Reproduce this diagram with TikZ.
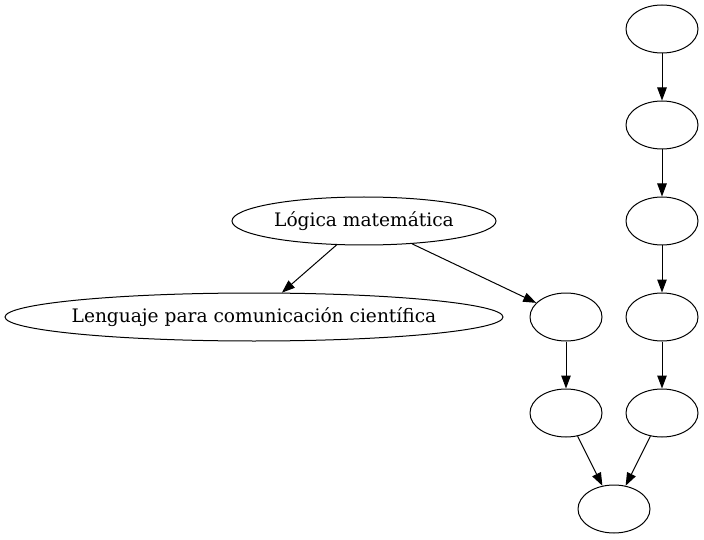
\documentclass[tikz,border=0pt]{standalone}
\usepackage{fontspec}
\setmainfont{DejaVu Serif}
\usetikzlibrary{shapes.geometric,arrows.meta}
\newcommand{\zw}[1]{\makebox[0pt]{#1}}
\begin{document}
\begin{tikzpicture}[x=1pt,y=1pt,
  nd/.style={draw,ellipse,inner sep=0pt,minimum width=72pt,minimum height=48pt,line width=1pt,font=\fontsize{18.6}{21}\selectfont},
  ar/.style={-{Triangle[length=13pt,width=9.5pt]},line width=1pt}]
\useasboundingbox (0,0) rectangle (704,539);
\node[nd] (n1) at (662,510) {};
\node[nd] (n2) at (662,414) {};
\node[nd] (n3) at (662,318) {};
\node[nd] (n4) at (662,222) {};
\node[nd] (n5) at (662,126) {};
\node[nd,minimum width=264pt] (lg) at (364,318) {\zw{Lógica matemática}};
\node[nd,minimum width=498pt] (le) at (254,222) {\zw{Lenguaje para comunicación científica}};
\node[nd] (m1) at (566,222) {};
\node[nd] (m2) at (566,126) {};
\node[nd] (b) at (614,30) {};
\draw[ar] (n1) -- (n2);
\draw[ar] (n2) -- (n3);
\draw[ar] (n3) -- (n4);
\draw[ar] (n4) -- (n5);
\draw[ar] (n5) -- (b);
\draw[ar] (lg) -- (le);
\draw[ar] (lg) -- (m1);
\draw[ar] (m1) -- (m2);
\draw[ar] (m2) -- (b);
\end{tikzpicture}
\end{document}
